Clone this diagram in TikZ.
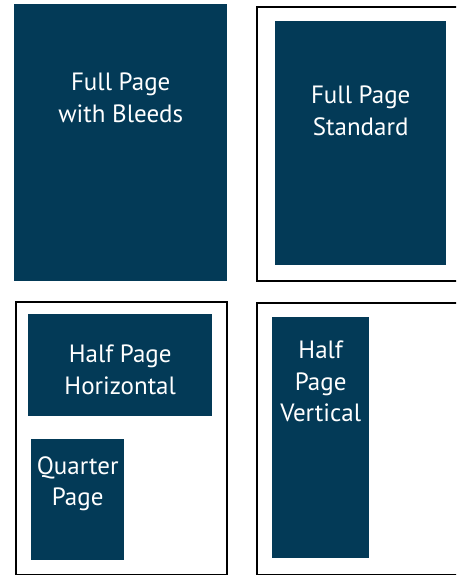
\documentclass[tikz,border=0pt]{standalone}
\usepackage{fontspec}
\setmainfont{PT Sans}
\usetikzlibrary{positioning}
\definecolor{adNavy}{RGB}{3,58,87}

\begin{document}
\begin{tikzpicture}[
    x=1pt, y=-1pt,
    adBox/.style={fill=adNavy, draw=none, inner sep=0pt, anchor=north west},
    pageFrame/.style={draw=black, line width=2pt, inner sep=0pt, anchor=north west},
    adLabel/.style={
        text=white, inner sep=0pt, align=center,
        font=\fontsize{25}{31.5}\selectfont,
        }
        ]
    \useasboundingbox[fill=white] (0, 0) rectangle (456, 575);
    \clip (0, 0) rectangle (456, 575);

    % page frames
    \node[pageFrame, minimum width=204pt, minimum height=274pt] (frameStd) at (256, 6) {};
    \node[pageFrame, minimum width=211pt, minimum height=273pt] (frameLeft) at (15, 301) {};
    \node[pageFrame, minimum width=204pt, minimum height=272pt] (frameRight) at (256, 302) {};

    % ad sizes
    \node[adBox, minimum width=213pt, minimum height=277pt] (bleed) at (14, 4) {};
    \node[adBox, minimum width=171pt, minimum height=244pt] (standard) at (275, 21) {};
    \node[adBox, minimum width=184pt, minimum height=102pt] (halfHoriz) at (28, 314) {};
    \node[adBox, minimum width=93pt, minimum height=121pt] (quarter) at (31, 439) {};
    \node[adBox, minimum width=97pt, minimum height=241pt] (halfVert) at (272, 317) {};

    \node[adLabel, below=69pt of bleed.north] (bleedText) {Full Page\\with Bleeds};
    \node[adLabel, below=65pt of standard.north] (standardText) {Full Page\\Standard};
    \node[adLabel, below=31pt of halfHoriz.north] (halfHorizText) {Half Page\\Horizontal};
    \node[adLabel, below=17pt of quarter.north] (quarterText) {Quarter\\Page};
    \node[adLabel, below=24pt of halfVert.north] (halfVertText) {Half\\Page\\Vertical};
\end{tikzpicture}
\end{document}
